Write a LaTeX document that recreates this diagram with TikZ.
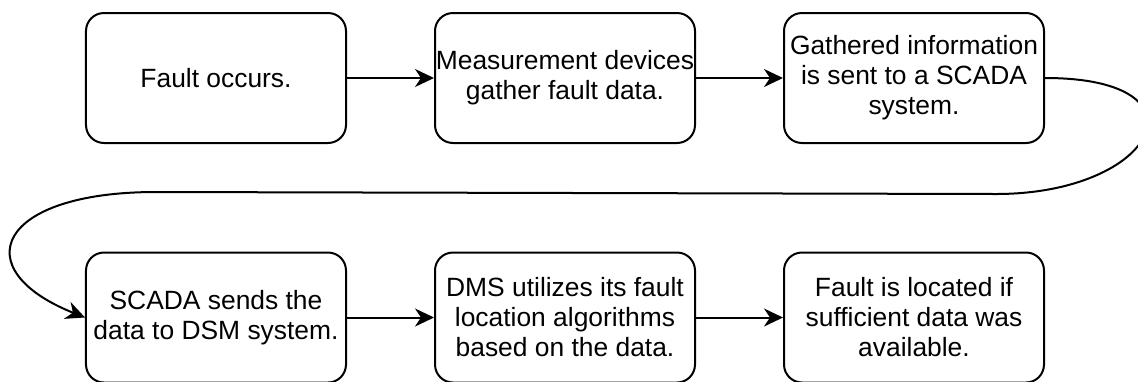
\documentclass[tikz,border=0pt]{standalone}
\usepackage{fontspec}
\setmainfont{Liberation Sans}
\usetikzlibrary{positioning,arrows.meta}
\tikzset{
  stepbox/.style={draw,line width=1pt,rounded corners=9pt,minimum width=130pt,minimum height=65pt,
    inner sep=0pt,align=center,font=\fontsize{13.2}{15}\selectfont},
  flow/.style={line width=1pt,-{Stealth[length=9.5pt,width=9pt,inset=3pt]}}
}
\begin{document}
\begin{tikzpicture}[node distance=43.5pt]
  \useasboundingbox (-108pt,39pt) rectangle (461pt,-151.75pt);
  %% top row
  \node[stepbox] (occur) at (0,0) {Fault occurs.};
  \node[stepbox,right=of occur] (gather) {Measurement devices\\gather fault data.};
  \node[stepbox,right=of gather] (send) {Gathered information\\is sent to a SCADA\\system.};
  %% bottom row
  \node[stepbox,below=53.75pt of occur] (scada) {SCADA sends the\\data to DSM system.};
  \node[stepbox,right=of scada] (dms) {DMS utilizes its fault\\location algorithms\\based on the data.};
  \node[stepbox,right=of dms] (located) {Fault is located if\\sufficient data was\\available.};
  %% straight arrows
  \foreach \a/\b in {occur/gather,gather/send,scada/dms,dms/located} \draw[flow] (\a) -- (\b);
  %% wrap-around arrow
  \coordinate (turnR) at (390pt,-58pt);
  \coordinate (turnL) at (-30pt,-57pt);
  \draw[flow] (send.east) .. controls +(85pt,0) and +(80pt,0) .. (turnR) -- (turnL)
    .. controls +(-80pt,0) and +(-60pt,24pt) .. (scada.west);
\end{tikzpicture}
\end{document}
